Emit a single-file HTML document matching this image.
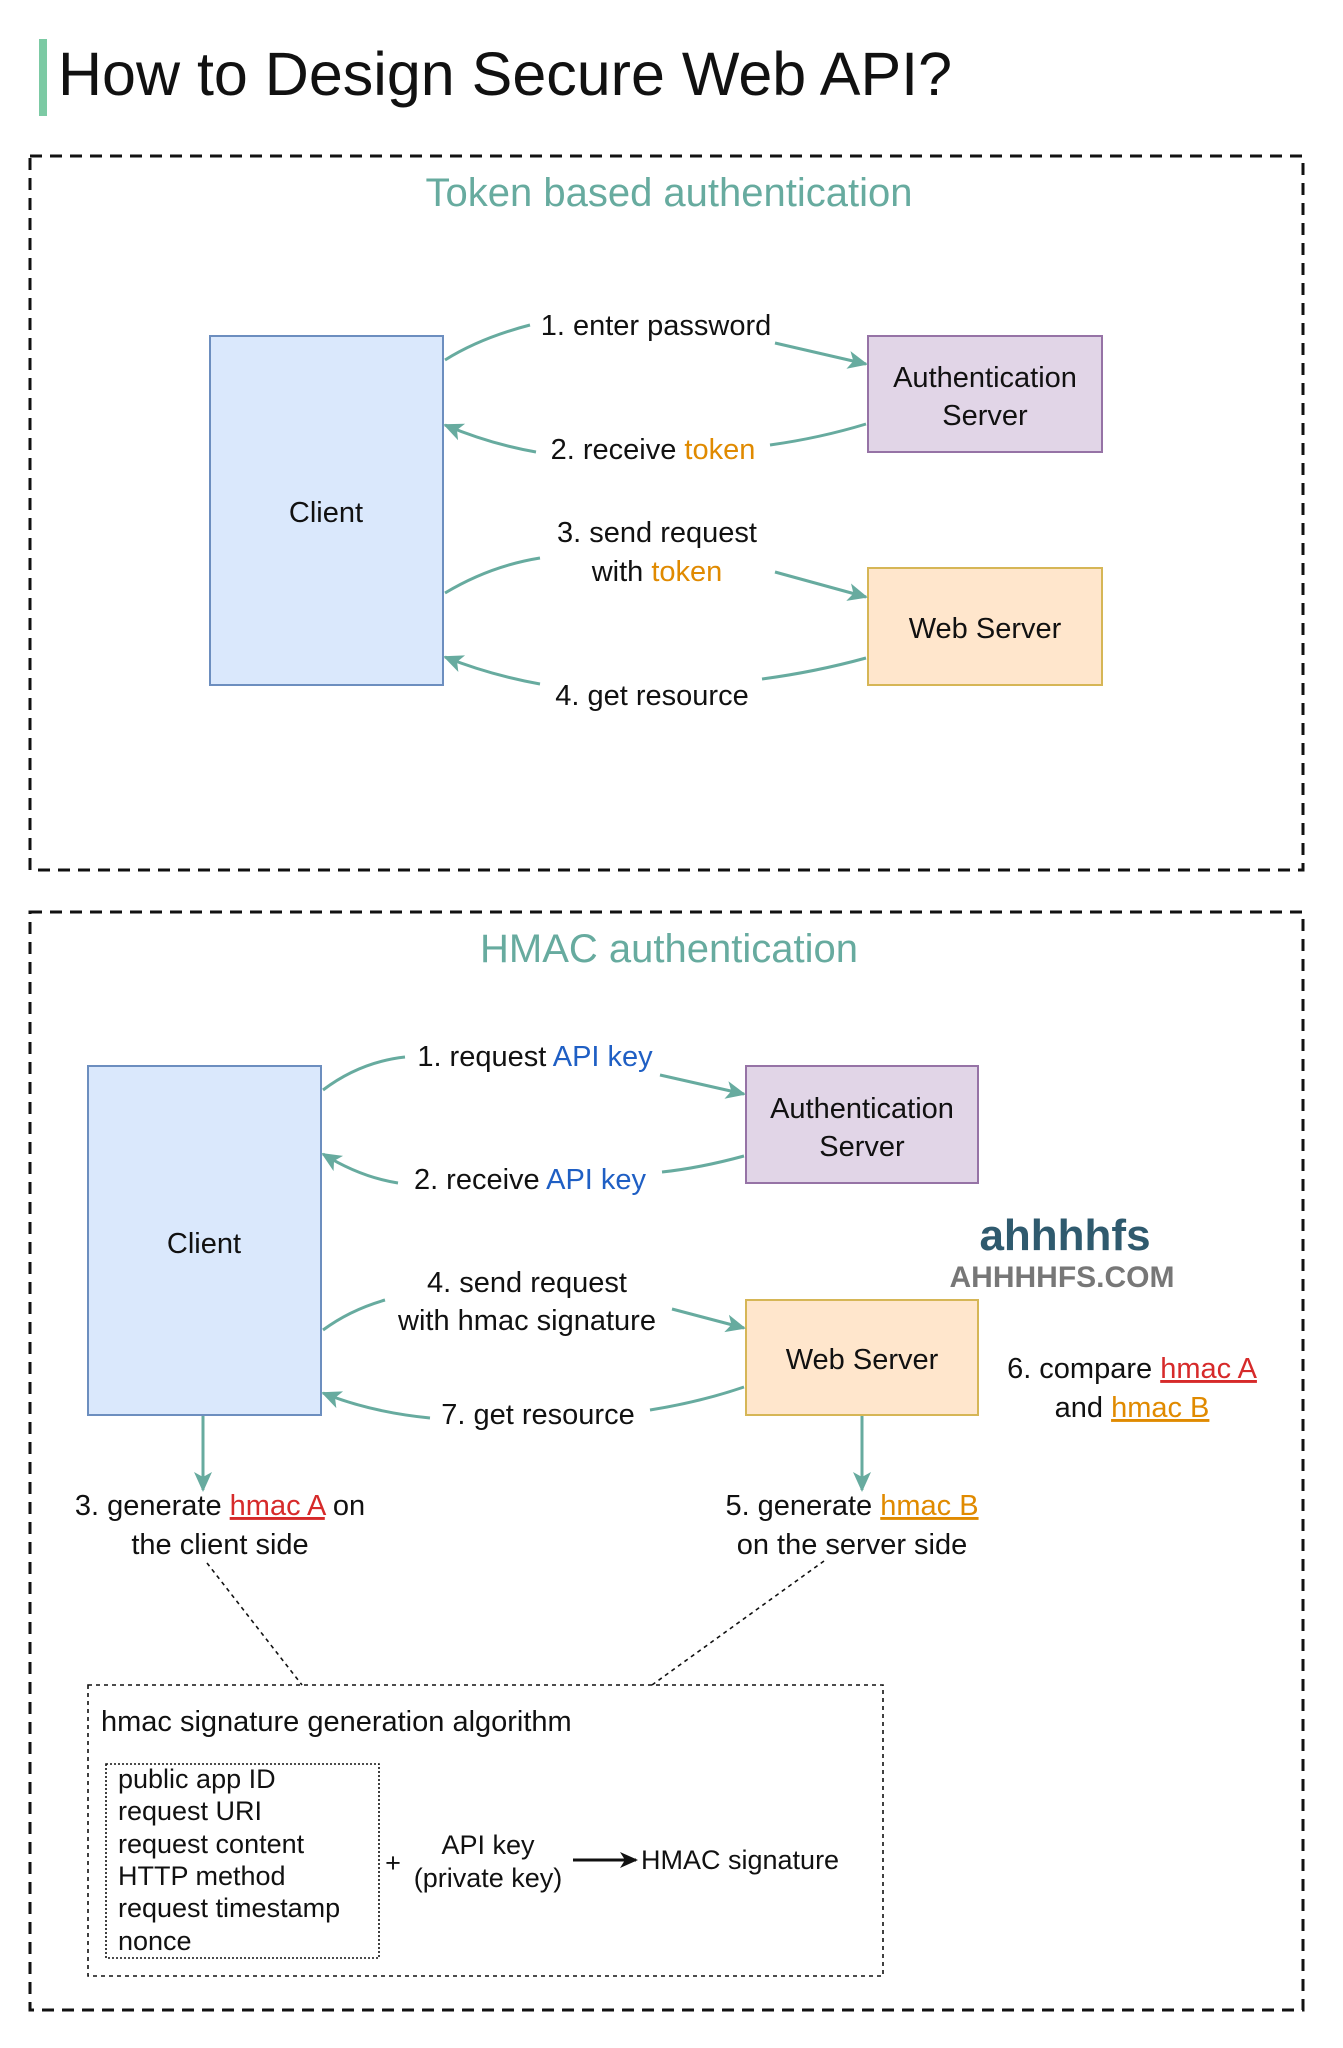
<!DOCTYPE html>
<html><head><meta charset="utf-8"><style>
html,body{margin:0;padding:0;background:#fff}
svg{display:block}
text{font-family:"Liberation Sans",sans-serif;fill:#111}
.l{font-size:29px}
.t{fill:#67ab9f;font-size:40px;font-family:"Liberation Sans Narrow","Liberation Sans",sans-serif}
.or{fill:#e08a00}
.bl{fill:#1f5fc4}
.rd{fill:#d62a2a;text-decoration:underline}
.ou{fill:#e08a00;text-decoration:underline}
</style></head><body>
<svg width="1343" height="2048" viewBox="0 0 1343 2048" xmlns="http://www.w3.org/2000/svg">
<defs>
<marker id="b" markerWidth="20" markerHeight="20" refX="16" refY="10" orient="auto" markerUnits="userSpaceOnUse"><path d="M0,2 L18,10 L0,18 L5,10 z" fill="#111"/></marker>
<marker id="g" markerWidth="22" markerHeight="22" refX="18" refY="11" orient="auto" markerUnits="userSpaceOnUse"><path d="M0,2 L20,11 L0,20 L5,11 z" fill="#67ab9f"/></marker>
</defs>
<rect x="39" y="39" width="8" height="77" fill="#7ccaa4"/>
<text x="58" y="95" style="font-size:61px">How to Design Secure Web API?</text>

<rect x="30" y="156" width="1273" height="714" fill="none" stroke="#111" stroke-width="3" stroke-dasharray="12,8"/>
<text class="t" x="669" y="206" text-anchor="middle">Token based authentication</text>
<rect x="210" y="336" width="233" height="349" fill="#dae8fc" stroke="#6c8ebf" stroke-width="2"/>
<text class="l" x="326" y="522" text-anchor="middle">Client</text>
<rect x="868" y="336" width="234" height="116" fill="#e1d5e7" stroke="#9673a6" stroke-width="2"/>
<text class="l" x="985" y="387" text-anchor="middle">Authentication</text>
<text class="l" x="985" y="425" text-anchor="middle">Server</text>
<rect x="868" y="568" width="234" height="117" fill="#ffe6cc" stroke="#d6b656" stroke-width="2"/>
<text class="l" x="985" y="638" text-anchor="middle">Web Server</text>
<g fill="none" stroke="#67ab9f" stroke-width="3">
<path d="M445,360 Q480,338 530,325"/><path d="M775,343 L866,364" marker-end="url(#g)"/>
<path d="M866,424 Q820,438 770,445"/><path d="M536,452 Q490,444 445,425" marker-end="url(#g)"/>
<path d="M445,593 Q490,566 540,558"/><path d="M775,572 L866,597" marker-end="url(#g)"/>
<path d="M866,658 Q815,672 762,679"/><path d="M540,684 Q490,675 445,657" marker-end="url(#g)"/>
</g>
<text class="l" x="656" y="335" text-anchor="middle">1. enter password</text>
<text class="l" x="653" y="459" text-anchor="middle">2. receive <tspan class="or">token</tspan></text>
<text class="l" x="657" y="542" text-anchor="middle">3.  send request</text>
<text class="l" x="657" y="581" text-anchor="middle">with <tspan class="or">token</tspan></text>
<text class="l" x="652" y="705" text-anchor="middle">4. get resource</text>

<rect x="30" y="912" width="1273" height="1098" fill="none" stroke="#111" stroke-width="3" stroke-dasharray="12,8"/>
<text class="t" x="669" y="962" text-anchor="middle">HMAC authentication</text>
<rect x="88" y="1066" width="233" height="349" fill="#dae8fc" stroke="#6c8ebf" stroke-width="2"/>
<text class="l" x="204" y="1253" text-anchor="middle">Client</text>
<rect x="746" y="1066" width="232" height="117" fill="#e1d5e7" stroke="#9673a6" stroke-width="2"/>
<text class="l" x="862" y="1118" text-anchor="middle">Authentication</text>
<text class="l" x="862" y="1156" text-anchor="middle">Server</text>
<rect x="746" y="1300" width="232" height="115" fill="#ffe6cc" stroke="#d6b656" stroke-width="2"/>
<text class="l" x="862" y="1369" text-anchor="middle">Web Server</text>
<g fill="none" stroke="#67ab9f" stroke-width="3">
<path d="M323,1090 Q360,1062 405,1057"/><path d="M660,1075 L744,1094" marker-end="url(#g)"/>
<path d="M744,1156 Q700,1168 662,1172"/><path d="M398,1183 Q360,1177 323,1154" marker-end="url(#g)"/>
<path d="M323,1330 Q350,1310 385,1300"/><path d="M672,1309 L744,1328" marker-end="url(#g)"/>
<path d="M744,1387 Q700,1402 650,1410"/><path d="M430,1418 Q370,1412 323,1393" marker-end="url(#g)"/>
<path d="M203,1416 L203,1490" marker-end="url(#g)"/><path d="M862,1416 L862,1490" marker-end="url(#g)"/>
</g>
<text class="l" x="535" y="1066" text-anchor="middle">1. request <tspan class="bl">API key</tspan></text>
<text class="l" x="530" y="1189" text-anchor="middle">2. receive <tspan class="bl">API key</tspan></text>
<text class="l" x="527" y="1292" text-anchor="middle">4. send request</text>
<text class="l" x="527" y="1330" text-anchor="middle">with hmac signature</text>
<text class="l" x="538" y="1424" text-anchor="middle">7. get resource</text>
<text class="l" x="1132" y="1378" text-anchor="middle">6. compare <tspan class="rd">hmac A</tspan></text>
<text class="l" x="1132" y="1417" text-anchor="middle">and <tspan class="ou">hmac B</tspan></text>
<text class="l" x="220" y="1515" text-anchor="middle">3. generate <tspan class="rd">hmac A</tspan> on</text>
<text class="l" x="220" y="1554" text-anchor="middle">the client side</text>
<text class="l" x="852" y="1515" text-anchor="middle">5. generate <tspan class="ou">hmac B</tspan></text>
<text class="l" x="852" y="1554" text-anchor="middle">on the server side</text>

<text x="1065" y="1250" text-anchor="middle" style="font-size:44px;fill:#2f5a6e;font-weight:bold">ahhhhfs</text>
<text x="1062" y="1287" text-anchor="middle" style="font-size:30px;fill:#777;font-weight:bold">AHHHHFS.COM</text>

<g fill="none" stroke="#111" stroke-width="1.6" stroke-dasharray="4,4">
<path d="M207,1563 L302,1685"/><path d="M824,1561 L652,1685"/>
<rect x="88" y="1685" width="795" height="291"/>
</g>
<rect x="106" y="1764" width="273" height="194" fill="none" stroke="#111" stroke-width="1.6" stroke-dasharray="2,2"/>
<text class="l" x="101" y="1731">hmac signature generation algorithm</text>
<text x="118" y="1788" style="font-size:27px">public app ID</text>
<text x="118" y="1820" style="font-size:27px">request URI</text>
<text x="118" y="1853" style="font-size:27px">request content</text>
<text x="118" y="1885" style="font-size:27px">HTTP method</text>
<text x="118" y="1917" style="font-size:27px">request timestamp</text>
<text x="118" y="1950" style="font-size:27px">nonce</text>
<text x="393" y="1872" text-anchor="middle" style="font-size:27px">+</text>
<text x="488" y="1854" text-anchor="middle" style="font-size:27px">API key</text>
<text x="488" y="1887" text-anchor="middle" style="font-size:27px">(private key)</text>
<path d="M573,1860 L636,1860" stroke="#111" stroke-width="3" marker-end="url(#b)"/>
<text x="641" y="1869" style="font-size:27px">HMAC signature</text>
</svg>
</body></html>
